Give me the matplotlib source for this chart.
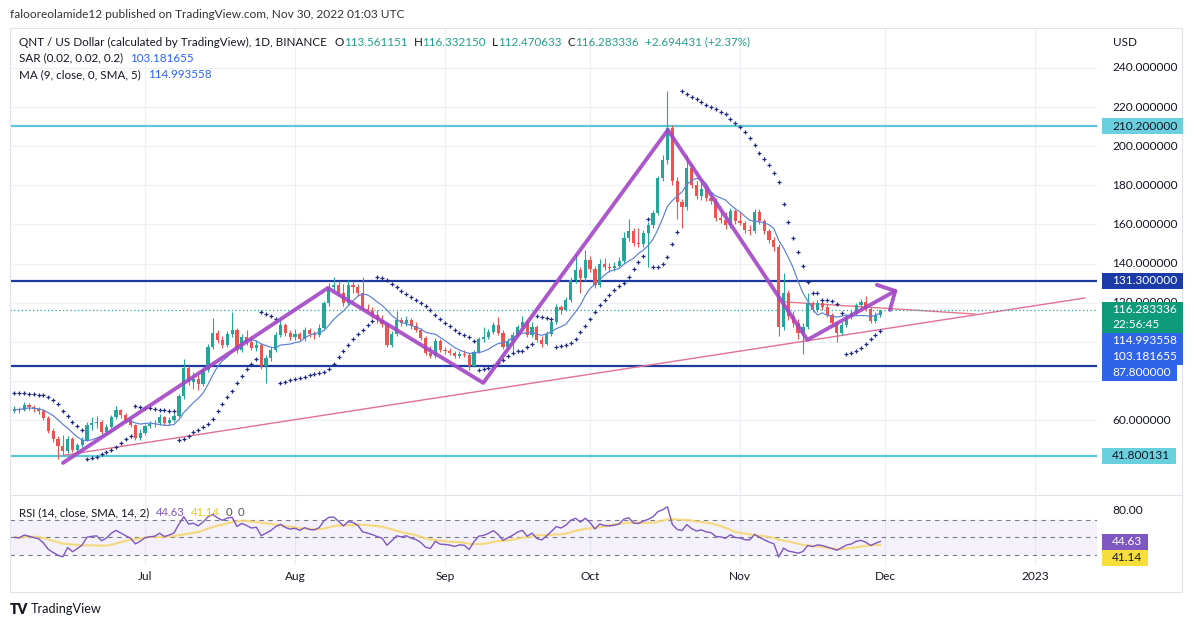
import numpy as np
import pandas as pd
import matplotlib
matplotlib.use("Agg")
import matplotlib.pyplot as plt
import matplotlib.dates as mdates
from matplotlib.patches import Rectangle
from matplotlib.transforms import blended_transform_factory, Bbox

plt.rcParams['font.family'] = ['Lato', 'DejaVu Sans']

# ---------------- data ----------------
first_date = "2022-06-04"
first_open = 64.5
close = [
    65.5, 65.0, 67.5, 66.5, 65.5, 64.5, 61.0, 54.5, 50.5, 46.5,
    44.0, 50.5, 44.5, 47.0, 50.0, 57.5, 58.5, 59.0, 54.0, 56.5,
    61.5, 65.0, 62.5, 60.0, 57.5, 51.0, 53.5, 57.0, 58.0, 58.5,
    61.5, 58.5, 60.0, 62.0, 72.5, 86.5, 79.5, 81.0, 78.5, 85.5,
    97.5, 104.5, 101.0, 98.5, 104.0, 106.0, 96.0, 102.5, 100.0, 97.0,
    98.5, 87.5, 91.5, 96.0, 103.5, 108.5, 104.5, 102.5, 104.0, 101.5,
    106.0, 104.0, 103.5, 107.0, 119.7, 128.2, 129.0, 124.8, 119.7, 129.0,
    128.0, 124.8, 117.0, 115.5, 113.5, 111.0, 109.0, 98.5, 104.0, 111.0,
    109.5, 111.0, 108.0, 106.0, 102.0, 94.5, 92.5, 100.5, 96.0, 95.5,
    94.5, 92.5, 94.0, 93.5, 87.5, 95.0, 101.5, 102.5, 105.0, 108.5,
    104.5, 97.5, 100.5, 103.5, 107.5, 110.0, 103.5, 107.5, 101.0, 99.0,
    104.0, 110.0, 118.0, 116.5, 121.5, 131.5, 136.5, 132.5, 142.0, 137.0,
    129.0, 140.0, 138.0, 137.5, 139.0, 141.5, 153.0, 156.5, 150.5, 150.0,
    155.5, 159.5, 166.0, 183.5, 193.0, 209.5, 182.0, 171.5, 169.0, 189.0,
    180.0, 174.5, 178.0, 173.5, 172.0, 163.5, 162.5, 159.5, 167.0, 161.5,
    160.5, 157.0, 156.5, 166.5, 161.5, 156.5, 152.0, 148.5, 107.5, 125.0,
    113.0, 109.5, 104.5, 107.7, 119.7, 116.3, 119.7, 118.0, 113.7, 109.5,
    104.4, 108.6, 112.9, 114.6, 118.8, 120.5, 117.0, 110.5, 113.561151, 116.283336,
]
high = [
    67, 66.5, 69, 68.5, 67.5, 66.5, 65.5, 62, 56, 52,
    52.5, 52, 51.5, 48.5, 51.5, 59, 61.5, 62, 60, 58,
    62.5, 67, 65.5, 63.5, 61, 58, 55.5, 58, 59.5, 60,
    63, 62, 61.5, 63.5, 73.5, 91, 87.5, 84.5, 83, 87,
    99, 112, 106, 103, 105.5, 115, 107, 104, 106, 103,
    101, 99.5, 93, 97.5, 105, 112.5, 109.5, 106, 106.5, 105,
    107.5, 107, 105.5, 109, 121, 130, 133.3, 131, 129.5, 131.5,
    131, 129.5, 133, 119.5, 118, 116.5, 113.5, 110, 105.5, 116,
    112.5, 113, 112, 110, 107, 103, 98, 102, 101.5, 97.5,
    97, 95.5, 95.5, 96, 94.5, 96, 102.5, 107.5, 106.5, 110,
    112.5, 106, 102, 105, 108.5, 113, 111, 110, 108.5, 103,
    105.5, 111, 119.5, 119, 123, 133, 144.5, 138, 147, 144,
    138.5, 142.5, 143, 140.5, 141, 143.5, 156, 163, 158, 158,
    157, 161, 167.5, 185, 195.5, 228, 211, 184, 173, 195.5,
    191, 182, 181.5, 179.5, 175.5, 173.5, 167.5, 166.5, 168.5, 168,
    166.5, 162, 159.5, 168, 168, 163, 157.5, 153.5, 150, 135,
    126.5, 116, 111.5, 109.5, 124.8, 121, 121.5, 121, 119.5, 114.5,
    110.5, 110, 114, 116.5, 120, 122, 123.5, 118, 115, 116.332150,
]
low = [
    63.5, 63.5, 64.5, 65, 64, 63, 60, 53.5, 49, 40,
    42, 43, 43.5, 43, 46, 49.5, 55, 56, 53, 53,
    56, 60.5, 61, 59, 56.5, 50, 50, 52.5, 56, 56.5,
    57.5, 57.5, 57.5, 59, 61.5, 71, 78, 76, 75.5, 77.5,
    84.5, 96.5, 99.5, 97, 97.5, 102.5, 94.5, 95, 98.5, 96,
    95.5, 86, 79, 90, 95, 102.5, 103, 101, 101, 100.5,
    100.5, 102.5, 101.5, 102.5, 106, 118.5, 126.5, 123.5, 118.5, 119,
    125, 123.5, 116, 114.5, 112, 109.5, 107.5, 97.5, 97.5, 103,
    108, 108, 106.5, 105, 101, 93.5, 91.5, 91.5, 95, 94,
    93, 91.5, 91.5, 92, 85.6, 87, 94.5, 100, 101.5, 104,
    103.5, 96.5, 96.5, 95.5, 102.5, 106.5, 102.5, 102.5, 100, 97.5,
    98.5, 103, 109, 114, 115.5, 120.5, 130, 125, 131, 135.5,
    127.5, 128, 136.5, 135.5, 136, 138, 140.5, 151.5, 149, 148.5,
    148.5, 138, 158, 165, 182, 191, 180, 163, 158, 167.5,
    178.5, 173, 172.5, 172, 170.5, 162, 160.5, 157.5, 158, 160,
    159.5, 155.5, 154.5, 155.5, 160, 155, 150.5, 146.5, 103, 106,
    111, 107.5, 101.5, 94, 106.5, 115, 115, 116.5, 112.5, 108,
    100, 103.5, 107.5, 111.5, 113.5, 117.5, 116, 109.5, 109.5, 112.470633,
]

sar_start = 74.0          # first SAR dot of the window (above price)
rsi_seed_gain = 1.5
rsi_seed_loss = 1.6

level_cyan = [210.2, 41.800131]
level_navy = [131.3, 87.8]

zigzag_dates = ["2022-06-14 01:00", "2022-08-07 19:00", "2022-09-08 22:00",
                "2022-10-17 02:00", "2022-11-14 22:00", "2022-12-03 02:00"]
zigzag_prices = [38.1, 127.5, 79.0, 208.3, 101.0, 126.0]
arrow_dates = ["2022-11-29 07:00", "2022-12-03 02:00", "2022-12-02 00:00"]
arrow_prices = [129.1, 126.0, 116.3]
trend_dates = ["2022-06-14 11:00", "2023-01-11 07:00"]
trend_prices = [42.1, 122.4]
res_dates = ["2022-11-10 07:00", "2022-12-19 14:00"]
res_prices = [120.4, 114.2]

month_ticks = ["2022-07-01", "2022-08-01", "2022-09-01", "2022-10-01",
               "2022-11-01", "2022-12-01", "2023-01-01"]
month_labels = ["Jul", "Aug", "Sep", "Oct", "Nov", "Dec", "2023"]
price_ticks = [240, 220, 200, 180, 160, 140, 120, 100, 80, 60]
x_range = ["2022-06-03 02:00", "2023-01-13 19:00"]

header = "falooreolamide12 published on TradingView.com, Nov 30, 2022 01:03 UTC"
symbol = "QNT / US Dollar (calculated by TradingView), 1D, BINANCE"
ohlc_text = [("O", "113.561151"), ("H", "116.332150"), ("L", "112.470633"), ("C", "116.283336")]
change_text = "+2.694431 (+2.37%)"
sar_title, sar_value = "SAR (0.02, 0.02, 0.2)", "103.181655"
ma_title, ma_value = "MA (9, close, 0, SMA, 5)", "114.993558"
rsi_title, rsi_value, rsi_ma_value = "RSI (14, close, SMA, 14, 2)", "44.63", "41.14"
countdown = "22:56:45"

# ---------------- derived series ----------------
dates = pd.date_range(first_date, periods=len(close), freq="D")
x = mdates.date2num(dates)
c = np.array(close, float)
o = np.concatenate([[first_open], c[:-1]])
h = np.array(high, float)
l = np.array(low, float)

ma9 = pd.Series(c).rolling(9, min_periods=1).mean().values

n = len(c)
sar = np.empty(n)
up = False; af = 0.02; ep = l[0]; sar[0] = sar_start
for i in range(1, n):
    s = sar[i - 1] + af * (ep - sar[i - 1])
    if up:
        s = min(s, l[i - 1], l[i - 2] if i > 1 else l[i - 1])
        if l[i] < s:
            up = False; s = ep; ep = l[i]; af = 0.02
        elif h[i] > ep:
            ep = h[i]; af = min(af + 0.02, 0.2)
    else:
        s = max(s, h[i - 1], h[i - 2] if i > 1 else h[i - 1])
        if h[i] > s:
            up = True; s = ep; ep = h[i]; af = 0.02
        elif l[i] < ep:
            ep = l[i]; af = min(af + 0.02, 0.2)
    sar[i] = s

diff = c - o
ag, al = rsi_seed_gain, rsi_seed_loss
rsi = np.empty(n)
for i in range(n):
    g = max(diff[i], 0); d = max(-diff[i], 0)
    ag = (ag * 13 + g) / 14
    al = (al * 13 + d) / 14
    rsi[i] = 100 - 100 / (1 + ag / al)
rsi_ma = pd.Series(rsi).rolling(14, min_periods=1).mean().values

# ---------------- figure & layout ----------------
W, H = 1194, 627
fig = plt.figure(figsize=(W / 100, H / 100), dpi=100)
fig.patch.set_facecolor("white")

def fx(px): return px / W
def fy(py): return 1 - py / H

L_, R_ = 10, 1097
T_main, B_main = 29, 494
T_rsi, B_rsi = 496, 566
ax = fig.add_axes([fx(L_), fy(B_main), (R_ - L_) / W, (B_main - T_main) / H])
axr = fig.add_axes([fx(L_), fy(B_rsi), (R_ - L_) / W, (B_rsi - T_rsi) / H], sharex=ax)
for a in (ax, axr):
    for sp in a.spines.values():
        sp.set_visible(False)
    a.tick_params(left=False, bottom=False, labelleft=False, labelbottom=False)
    a.set_facecolor("white")

xr = mdates.date2num(pd.to_datetime(x_range))
ax.set_xlim(xr[0], xr[1])
ax.set_ylim(22.2, 259.9)
axr.set_ylim(16.9, 96.9)

mt = mdates.date2num(pd.to_datetime(month_ticks))
grid_c = "#eef0f5"
for m in mt:
    ax.axvline(m, color=grid_c, lw=0.9, zorder=0)
    axr.axvline(m, color=grid_c, lw=0.9, zorder=0)
for p in price_ticks:
    ax.axhline(p, color=grid_c, lw=0.9, zorder=0)

# levels
for p in level_cyan:
    ax.axhline(p, color="#5cc8d7", lw=1.6, zorder=2)
for p in level_navy:
    ax.axhline(p, color="#1c3a9f", lw=1.6, zorder=2)

# trend lines
ax.plot(mdates.date2num(pd.to_datetime(trend_dates)), trend_prices, color="#e0709a", lw=1.0, zorder=2)
ax.plot(mdates.date2num(pd.to_datetime(res_dates)), res_prices, color="#e07a8e", lw=1.0, zorder=2)

# candles
up_c, dn_c = "#26a69a", "#ef5350"
cols = [up_c if cc >= oo else dn_c for cc, oo in zip(c, o)]
ax.vlines(x, l, h, colors=cols, lw=0.8, zorder=3)
body = np.where(np.abs(c - o) < 0.3, 0.3, c - o)
ax.bar(x, body, bottom=o, width=0.66, color=cols, zorder=4, linewidth=0)

# MA & SAR
ax.plot(x, ma9, color="#5a80d8", lw=0.85, zorder=5)
ax.plot(x, sar, linestyle="none", marker="+", ms=2.6, mew=0.9, color="#1f2a80", zorder=5)

# last price dotted
ax.axhline(c[-1], color="#26a69a", lw=0.9, ls=(0, (1, 2)), zorder=2)

# zigzag drawing
ax.plot(mdates.date2num(pd.to_datetime(zigzag_dates)), zigzag_prices,
        color="#a346c6", lw=2.8, alpha=0.9, solid_capstyle="round", solid_joinstyle="round", zorder=6)
ax.plot(mdates.date2num(pd.to_datetime(arrow_dates)), arrow_prices,
        color="#a346c6", lw=2.8, alpha=0.9, solid_capstyle="round", solid_joinstyle="round", zorder=6)

# RSI pane
axr.axhspan(30, 70, color="#7e57c2", alpha=0.08, lw=0, zorder=0)
for lv in (70, 50, 30):
    axr.axhline(lv, color="#787b86", lw=0.8, ls=(0, (4, 4)), zorder=1)
axr.plot(x, rsi_ma, color="#f5d66e", lw=1.6, alpha=0.85, zorder=2)
axr.plot(x, rsi, color="#7e57c2", lw=1.0, zorder=3)

# month labels
tb = blended_transform_factory(axr.transData, axr.transAxes)
for m, lab in zip(mt, month_labels):
    axr.text(m, (B_rsi - 577) / (B_rsi - T_rsi), lab, transform=tb, ha="center", va="center",
             fontsize=8.6, color="#131722", clip_on=False)

# frame lines
fig.add_artist(Rectangle((fx(10), fy(592)), (1182 - 10) / W, (592 - 28) / H, transform=fig.transFigure,
                         fill=False, edgecolor="#e0e3eb", lw=0.8))
fig.add_artist(plt.Line2D([fx(10), fx(1182)], [fy(495), fy(495)], transform=fig.transFigure, color="#e0e3eb", lw=0.8))

# ---------------- texts ----------------
renderer = fig.canvas.get_renderer()
DARK = "#131722"

def seq(x_px, y_px, parts, size=8.4):
    xx = x_px
    for s, col, g in parts:
        t = fig.text(fx(xx), fy(y_px), s, color=col, fontsize=size, ha="left", va="center")
        xx += t.get_window_extent(renderer).width + g
    return xx

fig.text(fx(10), fy(14), header, fontsize=8.6, color="#333333", ha="left", va="center")

GREEN = "#22a08b"
parts = [(symbol, DARK, 8)]
for k, v in ohlc_text:
    parts.append((k, DARK, 0))
    parts.append((v, GREEN, 6))
parts.append((change_text, GREEN, 0))
seq(19, 42, parts)
seq(19, 58, [(sar_title, DARK, 7), (sar_value, "#2962ff", 0)])
seq(19, 75, [(ma_title, DARK, 7), (ma_value, "#2962ff", 0)])
seq(19, 513, [(rsi_title, DARK, 7), (rsi_value, "#7e57c2", 6), (rsi_ma_value, "#e8c72c", 6),
              ("0", "#555555", 5), ("0", "#555555", 0)], size=8.2)

# price scale labels
def ypx(axis, val):
    return H - axis.transData.transform((0, val))[1]

def box(yc, lines, bg, fg, bh=16):
    n_l = len(lines)
    top = yc - bh / 2
    wmax = 0
    for j, s in enumerate(lines):
        t = fig.text(fx(1112), fy(top + bh / 2 + j * 15), s, fontsize=8.6, color=fg,
                     ha="left", va="center", zorder=7)
        wmax = max(wmax, t.get_window_extent(renderer).width)
    hgt = bh + (n_l - 1) * 15
    fig.add_artist(Rectangle((fx(1102), fy(top + hgt)), (wmax + 16) / W, hgt / H,
                             transform=fig.transFigure, facecolor=bg, edgecolor="none", zorder=6))
    return top, top + hgt

box(ypx(ax, level_cyan[0]), [f"{level_cyan[0]:.6f}"], "#6bd0de", DARK)
box(ypx(ax, level_cyan[1]), [f"{level_cyan[1]:.6f}"], "#6bd0de", DARK)
box(ypx(ax, level_navy[0]), [f"{level_navy[0]:.6f}"], "#1a3aa8", "white")
stack_top, bottom = box(ypx(ax, c[-1]), [f"{c[-1]:.6f}", countdown], "#0f9a7a", "white")
for val_txt, val in [(ma_value, float(ma_value)), (sar_value, float(sar_value)), (f"{level_navy[1]:.6f}", level_navy[1])]:
    yc = max(ypx(ax, val), bottom + 8)
    _, bottom = box(yc, [val_txt], "#2f63e8", "white")
stack_bottom = bottom

fig.text(fx(1113), fy(42), "USD", fontsize=8.4, color=DARK, ha="left", va="center", zorder=3)
for p in price_ticks:
    yp = ypx(ax, p)
    if stack_top + 6 < yp < stack_bottom + 6:
        continue  # fully hidden behind the label stack, as in the reference
    t = fig.text(fx(1112), fy(yp), f"{p:.6f}", fontsize=8.6, color=DARK, ha="left", va="center", zorder=3)
    if stack_top - 8 < yp <= stack_top + 6:
        t.set_clip_box(Bbox([[1100, H - stack_top], [1194, H]]))
        t.set_clip_on(True)
fig.text(fx(1112), fy(ypx(axr, 80)), "80.00", fontsize=8.6, color=DARK, ha="left", va="center", zorder=3)

_, b2 = box(ypx(axr, float(rsi_value)), [rsi_value], "#7e57c2", "white")
box(max(ypx(axr, float(rsi_ma_value)), b2 + 8), [rsi_ma_value], "#f7de3d", DARK)

# TradingView logo
fig.text(fx(10), fy(609), "TV", fontsize=10, fontweight="heavy", color=DARK, ha="left", va="center")
fig.text(fx(31), fy(609), "TradingView", fontsize=9.2, color=DARK, ha="left", va="center")

fig.savefig("out.png", dpi=100, facecolor="white")
